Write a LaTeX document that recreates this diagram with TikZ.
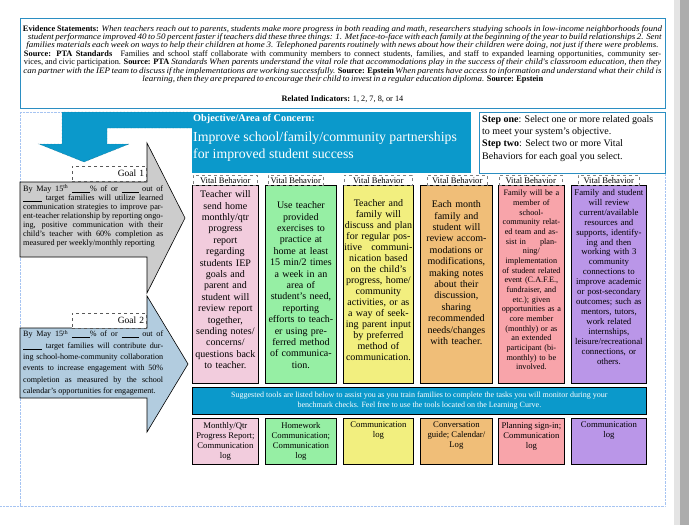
\documentclass[tikz,border=0pt]{standalone}
\usepackage{fontspec}
\setmainfont{Liberation Serif}
\newfontfamily\evfont[ItalicFeatures={FakeStretch=1.08}]{Liberation Serif}
\usepackage{xcolor}
\usetikzlibrary{positioning}

\definecolor{objblue}{HTML}{0B99CB}
\definecolor{lineblue}{HTML}{2B8EC2}
\definecolor{gridblue}{HTML}{A6C4F2}
\definecolor{goalgray}{HTML}{CCCCCC}
\definecolor{goalblue}{HTML}{B2CCDF}
\definecolor{vbpink}{HTML}{F2CCDD}
\definecolor{vbgreen}{HTML}{96EFA4}
\definecolor{vbyellow}{HTML}{F2EF7F}
\definecolor{vborange}{HTML}{F0BE78}
\definecolor{vbsalmon}{HTML}{F8A4AA}
\definecolor{vbpurple}{HTML}{BA96E8}
\definecolor{viewgray}{HTML}{ACACAC}
\definecolor{viewlight}{HTML}{E4E4E4}

\newcommand{\blank}[1]{\rule[-1pt]{#1}{0.5pt}}
\newcommand{\evline}[2]{\makebox[#1pt][s]{#2}}

\tikzset{
  colbox/.style={draw=black, line width=0.8pt, inner sep=0pt, anchor=north west},
  vblabel/.style={draw=gray, dashed, line width=0.4pt, fill=white, inner sep=0pt,
    minimum height=10pt, anchor=north west, font=\fontsize{8.6}{9}\selectfont},
  coltext/.style={inner sep=0pt, align=center},
  tooltext/.style={inner sep=0pt, align=center, font=\fontsize{8.7}{10}\selectfont},
  goallabel/.style={draw=gray!70!black, dashed, fill=white, line width=0.4pt,
    inner sep=2pt, text width=70pt, minimum height=15pt, anchor=north west,
    align=right, font=\fontsize{9.5}{10}\selectfont},
  goaltext/.style={anchor=north west, inner sep=0pt, align=justify},
}

\begin{document}
\begin{tikzpicture}[x=1pt,y=-1pt]

% Page and viewer margin
\fill[white] (0,0) rectangle (689,525);
\useasboundingbox (0,0) rectangle (689,525);
\fill[viewlight] (674,0) rectangle (680,525);
\fill[viewgray] (680,0) rectangle (689,525);

% Table grid (dotted)
\draw[gridblue, densely dotted]
  (20,112) -- (20,506) -- (665,506) -- (665,172);
\draw[gridblue, densely dotted] (0,506) -- (20,506);
\draw[gridblue, densely dotted] (20,112) -- (62,112);

% Evidence statements
\node[
  draw=lineblue,
  line width=1pt,
  minimum width=645pt,
  minimum height=90pt,
  inner sep=0pt,
  anchor=north west
] (evidence) at (20,18) {};

\node[
  anchor=north,
  inner sep=0pt,
  align=center,
  font=\evfont\fontsize{8.3}{8.4}\selectfont
] (evidtext) at (342.5,25) {%
\evline{639}{\textbf{Evidence Statements:} \textit{When teachers reach out to parents, students make more progress in both reading and math, researchers studying schools in low-income neighborhoods found}}\\
\evline{629}{\textit{student performance improved 40 to 50 percent faster if teachers did these three things: 1. Met face-to-face with each family at the beginning of the year to build relationships 2. Sent}}\\
\evline{632}{\textit{families materials each week on ways to help their children at home 3. Telephoned parents routinely with news about how their children were doing, not just if there were problems.}}\\
\evline{637}{\textbf{Source: PTA Standards}\quad Families and school staff collaborate with community members to connect students, families, and staff to expanded learning opportunities, community ser-}\\
\evline{637}{vices, and civic participation. \textbf{Source: PTA} \textit{Standards When parents understand the vital role that accommodations play in the success of their child's classroom education, then they}}\\
\evline{638}{\textit{can partner with the IEP team to discuss if the implementations are working successfully.} \textbf{Source: Epstein} \textit{When parents have access to information and understand what their child is}}\\
\evline{400}{\textit{learning, then they are prepared to encourage their child to invest in a regular education diploma.} \textbf{Source: Epstein}}\\[12pt]
\textbf{Related Indicators:} 1, 2, 7, 8, or 14};

% Objective bent arrow
\fill[objblue] (192,112) -- (62,112) -- (62,144) -- (39,144) -- (84,162)
  -- (129,144) -- (107,144) -- (107,128) -- (192,128) -- cycle;
\draw[objblue!60!black, densely dotted, line width=0.4pt]
  (192,112) -- (62,112) -- (62,144) -- (39,144) -- (84,162)
  -- (129,144) -- (107,144) -- (107,128) -- (192,128);

% Objective box
\node[
  fill=objblue,
  minimum width=279pt,
  minimum height=61pt,
  inner sep=0pt,
  anchor=north west
] (objective) at (192,112) {};

\node[
  anchor=north west,
  inner sep=0pt,
  text=white,
  font=\fontsize{10.3}{11}\selectfont\bfseries
] (objtitle) at (193,114.5) {Objective/Area of Concern:};

\node[
  anchor=north west,
  inner sep=0pt,
  text=white,
  align=left,
  font=\fontsize{13.8}{17}\selectfont
] (objtext) at (193,132) {Improve school/family/community partnerships\\for improved student success};

% Steps
\node[
  draw=lineblue,
  line width=1pt,
  minimum width=186pt,
  minimum height=61pt,
  inner sep=0pt,
  anchor=north west
] (steps) at (479,112) {};

\node[
  anchor=north west,
  inner sep=0pt,
  align=left,
  font=\fontsize{10}{12.3}\selectfont
] (steptext) at (482,115) {\textbf{Step one}: Select one or more related goals\\
to meet your system's objective.\\
\textbf{Step two}: Select two or more Vital\\
Behaviors for each goal you select.};

% Goal 1 arrow
\draw[fill=goalgray, line width=0.6pt]
  (20,182) -- (147,182) -- (147,143) -- (185,218) -- (147,293)
  -- (147,257) -- (20,257) -- cycle;
\node[goallabel] (goal1) at (72,166) {Goal 1};
\node[
  goaltext,
  text width=140pt,
  font=\fontsize{8.2}{9}\selectfont
] (goal1text) at (23,184) {By May 15\textsuperscript{th} \blank{18pt}\% of or \blank{17pt} out of\linebreak
\blank{19pt} target families will utilize learned\linebreak
communication strategies to improve par-\linebreak
ent-teacher relationship by reporting ongo-\linebreak
ing, positive communication with their\linebreak
child's teacher with 60\% completion as\linebreak
measured per weekly/monthly reporting};

% Goal 2 arrow
\draw[fill=goalblue, line width=0.6pt]
  (20,328) -- (147,328) -- (147,296) -- (188,364) -- (147,432)
  -- (147,398) -- (20,398) -- cycle;
\node[goallabel] (goal2) at (72,313) {Goal 2};
\node[
  goaltext,
  text width=140pt,
  font=\fontsize{8.1}{11.3}\selectfont
] (goal2text) at (23,330) {By May 15\textsuperscript{th} \blank{18pt}\% of or \blank{17pt} out of\linebreak
\blank{19pt} target families will contribute dur-\linebreak
ing school-home-community collaboration\linebreak
events to increase engagement with 50\%\linebreak
completion as measured by the school\linebreak
calendar's opportunities for engagement.};

% Vital behavior columns and tool boxes
\foreach \n/\xa/\xb/\col in {1/192/258/vbpink, 2/265/336/vbgreen,
  3/343/413/vbyellow, 4/420/492/vborange, 5/498/564/vbsalmon,
  6/571/646/vbpurple} {
  \node[colbox, fill=\col, minimum width={(\xb-\xa)*1pt},
    minimum height=198pt] (c\n) at (\xa,185) {};
  \node[colbox, fill=\col, minimum width={(\xb-\xa)*1pt},
    minimum height=46pt] (t\n) at (\xa,418) {};
}

\foreach \n/\xa/\xb in {1/193/257, 2/268/323, 3/344/412, 4/427/487,
  5/499/562, 6/578/639} {
  \node[vblabel, minimum width={(\xb-\xa)*1pt}] (l\n) at (\xa,175) {Vital Behavior};
}

\node[coltext, below=5.5pt of c1.north, text width=64pt,
  font=\fontsize{10}{11.4}\selectfont] (ct1) {Teacher will\\ send home\\ monthly/qtr\\
  progress\\ report\\ regarding\\ students IEP\\ goals and\\ parent and\\ student will\\
  review report\\ together,\\ sending notes/\\ concerns/\\ questions back\\ to teacher.};

\node[coltext, below=16.5pt of c2.north, text width=69pt,
  font=\fontsize{10}{11.4}\selectfont] (ct2) {Use teacher\\ provided\\ exercises to\\
  practice at\\ home at least\\ 15 min/2 times\\ a week in an\\ area of\\ student's need,\\
  reporting\\ efforts to teach-\\ er using pre-\\ ferred method\\ of communica-\\ tion.};

\node[coltext, below=14.5pt of c3.north, text width=68pt,
  font=\fontsize{10}{11}\selectfont] (ct3) {Teacher and\\ family will\\ discuss and plan\\
  for regular pos-\\ itive\hfill communi-\\ nication based\\ on the child's\\ progress, home/\\
  community\\ activities, or as\\ a way of seek-\\ ing parent input\\ by preferred\\
  method of\\ communication.};

\node[coltext, below=15.5pt of c4.north, text width=70pt,
  font=\fontsize{10}{11.4}\selectfont] (ct4) {Each month\\ family and\\ student will\\
  review accom-\\ modations or\\ modifications,\\ making notes\\ about their\\ discussion,\\
  sharing\\ recommended\\ needs/changes\\ with teacher.};

\node[coltext, below=5pt of c5.north, text width=64pt,
  font=\fontsize{8.2}{9.67}\selectfont] (ct5) {Family will be a\\ member of\\ school-\\
  community relat-\\ ed team and as-\\ sist in\hspace{14pt}plan-\\ ning/\\ implementation\\
  of student related\\ event (C.A.F.E.,\\ fundraiser, and\\ etc.); given\\
  opportunities as a\\ core member\\ (monthly) or as\\ an extended\\ participant (bi-\\
  monthly) to be\\ involved.};

\node[coltext, below=4pt of c6.north, text width=73pt,
  font=\fontsize{8.8}{9.94}\selectfont] (ct6) {Family and student\\ will review\\
  current/available\\ resources and\\ supports, identify-\\ ing and then\\ working with 3\\
  community\\ connections to\\ improve academic\\ or post-secondary\\ outcomes; such as\\
  mentors, tutors,\\ work related\\ internships,\\ leisure/recreational\\ connections, or\\
  others.};

% Suggested tools bar
\node[
  colbox,
  fill=objblue,
  minimum width=454pt,
  minimum height=27pt,
  text=white,
  align=center,
  font=\fontsize{8}{10}\selectfont
] (tools) at (192,387) {Suggested tools are listed below to assist you as you train families to complete the tasks you will monitor during your\\
benchmark checks. Feel free to use the tools located on the Learning Curve.};

\node[tooltext, below=4pt of t1.north] (tt1) {Monthly/Qtr\\ Progress Report;\\ Communication\\ log};
\node[tooltext, below=4pt of t2.north] (tt2) {Homework\\ Communication;\\ Communication\\ log};
\node[tooltext, below=4pt of t3.north] (tt3) {Communication\\ log};
\node[tooltext, below=4pt of t4.north] (tt4) {Conversation\\ guide; Calendar/\\ Log};
\node[tooltext, below=4pt of t5.north] (tt5) {Planning sign-in;\\ Communication\\ log};
\node[tooltext, below=4pt of t6.north] (tt6) {Communication\\ log};

\end{tikzpicture}
\end{document}
